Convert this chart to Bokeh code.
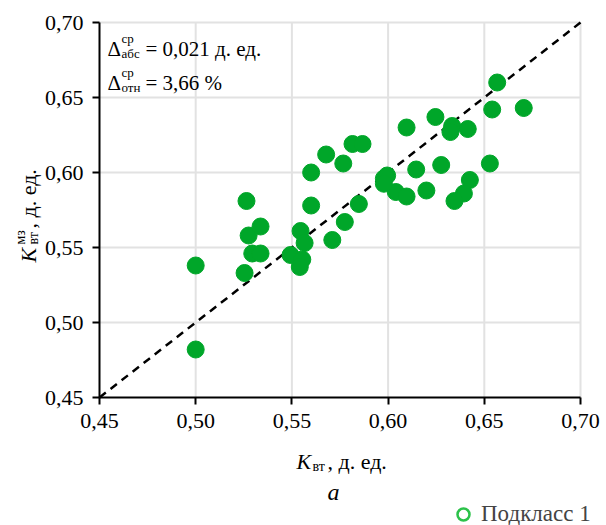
import math
from bokeh.plotting import figure
from bokeh.models import FixedTicker, Label, Legend, LegendItem, Range1d
from bokeh.embed import file_html
from bokeh.resources import INLINE

# ---- data ----
k_vt = [0.500, 0.500, 0.5254, 0.5264, 0.5275, 0.5294, 0.5337, 0.5337, 0.5493, 0.5545,
        0.5566, 0.5554, 0.5541, 0.5600, 0.5600, 0.5678, 0.5767, 0.5710, 0.5775, 0.5848,
        0.5815, 0.5867, 0.5978, 0.5995, 0.6040, 0.6567, 0.6541, 0.6705, 0.6246, 0.6096,
        0.6333, 0.6324, 0.6414, 0.6529, 0.6276, 0.6146, 0.5978, 0.6096, 0.6199, 0.6425,
        0.6394, 0.6345]
k_mz = [0.538, 0.482, 0.533, 0.581, 0.558, 0.546, 0.546, 0.564, 0.545, 0.561,
        0.553, 0.542, 0.537, 0.578, 0.600, 0.612, 0.606, 0.555, 0.567, 0.579,
        0.619, 0.619, 0.596, 0.598, 0.587, 0.660, 0.642, 0.643, 0.637, 0.630,
        0.631, 0.627, 0.629, 0.606, 0.605, 0.602, 0.5925, 0.584, 0.588, 0.595,
        0.586, 0.581]
ideal_line = [0.45, 0.70]
tick_values = [0.45, 0.50, 0.55, 0.60, 0.65, 0.70]
tick_labels = ["0,45", "0,50", "0,55", "0,60", "0,65", "0,70"]
abs_err = "0,021"
rel_err = "3,66"
legend_name = "Подкласс 1"

FONT = "'Liberation Serif', 'Times New Roman', serif"
GREEN = "#00a629"

W, H = 606, 525
# pixel position of the axes box inside the canvas
FL, FT, FW, FH = 99, 22, 481, 375
LO, HI = tick_values[0], tick_values[-1]
SPAN = HI - LO


def dx(px):
    return LO + (px - FL) / FW * SPAN


def dy(py):
    return HI - (py - FT) / FH * SPAN


p = figure(width=W, height=H, output_backend="svg", toolbar_location=None,
           x_range=Range1d(dx(0), dx(W)), y_range=Range1d(dy(H), dy(0)),
           min_border=0)
p.outline_line_color = None
p.background_fill_color = "white"
p.border_fill_color = "white"
p.xgrid.visible = False
p.ygrid.visible = False

# grid lines inside the axes box
p.segment(x0=tick_values[1:], y0=[LO] * (len(tick_values) - 1),
          x1=tick_values[1:], y1=[HI] * (len(tick_values) - 1),
          line_color="#e2e2e2", line_width=2)
p.segment(x0=[LO] * (len(tick_values) - 1), y0=tick_values[1:],
          x1=[HI] * (len(tick_values) - 1), y1=tick_values[1:],
          line_color="#e2e2e2", line_width=2)

for ax in (p.xaxis[0], p.yaxis[0]):
    ax.fixed_location = LO
    ax.bounds = (LO, HI)
    ax.ticker = FixedTicker(ticks=tick_values)
    ax.major_label_overrides = {v: s for v, s in zip(tick_values, tick_labels)}
    ax.major_label_text_font = FONT
    ax.major_label_text_font_size = "22px"
    ax.major_label_text_color = "black"
    ax.axis_line_color = "black"
    ax.axis_line_width = 2
    ax.major_tick_line_color = "black"
    ax.major_tick_line_width = 2
    ax.major_tick_out = 7
    ax.major_tick_in = 0
    ax.minor_tick_line_color = None
    ax.major_label_standoff = 9

# diagonal
p.line(ideal_line, ideal_line, line_color="black", line_width=2.5, line_dash="8 6")

# points
p.scatter(k_vt, k_mz, size=17, fill_color=GREEN, line_color=GREEN, line_width=1)

# legend (open circle); the renderer holds no drawable point
dummy = p.scatter(x=[float("nan")], y=[float("nan")], size=12, fill_color=None,
                  line_color="#2cc24a", line_width=2.5)
leg = Legend(items=[LegendItem(label=legend_name, renderers=[dummy])],
             location=(448, -4), orientation="horizontal",
             border_line_color=None, background_fill_alpha=0,
             label_text_font=FONT, label_text_font_size="23px",
             glyph_width=30, glyph_height=30, label_standoff=3,
             padding=0, margin=0)
p.add_layout(leg, "center")


def lab(text, px, py, size, style="normal", angle=0.0, align="left"):
    p.add_layout(Label(x=dx(px), y=dy(py), text=text, text_font=FONT,
                       text_font_size=size, text_font_style=style, angle=angle,
                       text_align=align, text_baseline="alphabetic", text_color="black"))


# annotation text
lab("Δ", 107, 48, "21px")
lab("ср", 121, 38, "13px")
lab("абс", 121, 53, "13px")
lab("= " + abs_err + " д. ед.", 145, 48, "21px")
lab("Δ", 107, 82, "21px")
lab("ср", 121, 72, "13px")
lab("отн", 121, 87, "13px")
lab("= " + rel_err + " %", 145, 82, "21px")

# x axis label
lab("K", 296, 461, "22px", "italic")
lab("вт", 312, 466, "14px")
lab(", д. ед.", 327, 461, "22px")
# caption
lab("а", 333, 491, "24px", "italic", align="center")

# y axis label (rotated)
rot = math.pi / 2
lab("K", 28, 262, "22px", "italic", angle=rot)
lab("вт", 33, 244, "14px", angle=rot)
lab("мз", 20, 244, "14px", angle=rot)
lab(", д. ед.", 28, 228, "22px", angle=rot)

open("out.html", "w").write(file_html(p, INLINE))
